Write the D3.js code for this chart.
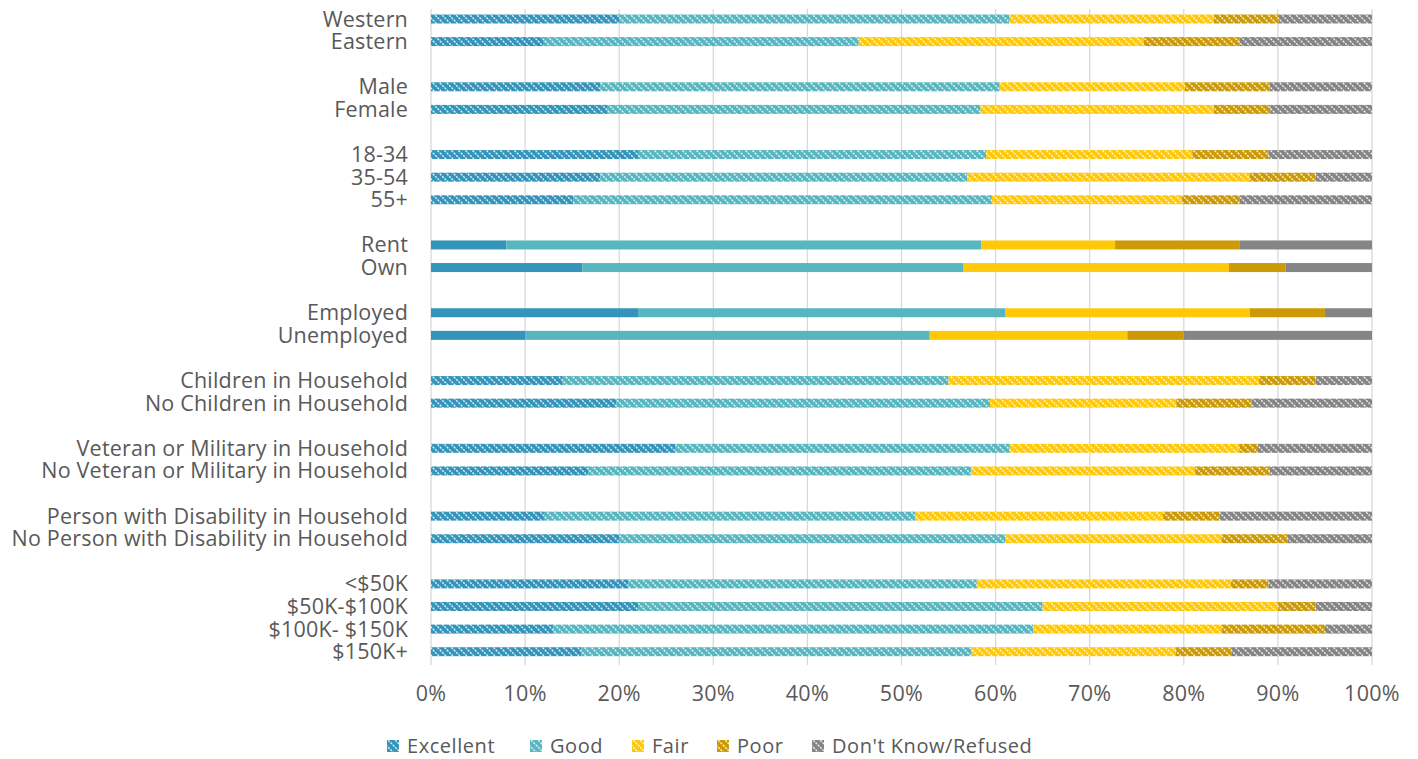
<!DOCTYPE html>
<html><head><meta charset="utf-8">
<script src="https://cdn.jsdelivr.net/npm/d3@7"></script>
<style>
body{margin:0;background:#fff;}
text{font-family:"Open Sans","Noto Sans",sans-serif;fill:#595959;}
</style></head>
<body><svg id="c" width="1418" height="759"></svg>
<script>
const categories = ["Western","Eastern","","Male","Female"," ","18-34","35-54","55+","  ","Rent","Own","   ","Employed","Unemployed","    ","Children in Household","No Children in Household","     ","Veteran or Military in Household","No Veteran or Military in Household","      ","Person with Disability in Household","No Person with Disability in Household","       ","<$50K","$50K-$100K","$100K- $150K","$150K+"];
const seriesNames = ["Excellent","Good","Fair","Poor","Don't Know/Refused"];
const excellent = [20,12,null,18,18.7,null,22,18,15.1,null,8,16.1,null,22,10,null,14,19.7,null,26,16.7,null,12,20,null,21,22,13,16];
const good      = [41.5,33.5,null,42.5,39.7,null,37,39,44.5,null,50.5,40.5,null,39,43,null,41,39.7,null,35.5,40.7,null,39.5,41,null,37,43,51,41.5];
const fair      = [21.7,30.3,null,19.7,24.8,null,21.9,30,20.2,null,14.2,28.2,null,26,21,null,33,19.8,null,24.4,23.8,null,26.3,23,null,27,25,20,21.7];
const poor      = [6.9,10.2,null,9,6,null,8.1,7,6.1,null,13.2,6,null,8,6,null,6,8,null,1.9,7.9,null,6,7,null,4,4,11,6];
const dontKnow  = [9.9,14.1,null,10.9,10.8,null,11,6,14.1,null,14.1,9.2,null,5,20,null,6,12.8,null,12.2,10.9,null,16.2,9,null,11,6,5,14.9];
const solidRows = ["Rent","Own","Employed","Unemployed"];
const tickValues = [0,0.1,0.2,0.3,0.4,0.5,0.6,0.7,0.8,0.9,1];
const colors = ["#3494BA","#58B6C0","#FFC808","#CC9A06","#858585"];

const svg = d3.select("#c");
const x = d3.scaleLinear().domain([0,1]).range([431,1372]);
const y = d3.scaleBand().domain(categories).range([7.7,663]).paddingInner(0.6).paddingOuter(0.3);

const defs = svg.append("defs");
colors.forEach((c,i)=>{
  const p = defs.append("pattern").attr("id","pat"+i).attr("patternUnits","userSpaceOnUse")
    .attr("width",7).attr("height",7);
  p.append("rect").attr("width",7).attr("height",7).attr("fill",c);
  p.append("path").attr("d","M-1,-1 L8,8 M-1,6 L1,8 M6,-1 L8,1")
    .attr("stroke","#fff").attr("stroke-width",1.4).attr("stroke-dasharray","2,1.2").attr("opacity",0.85);
});

// gridlines
svg.append("g").selectAll("line").data(tickValues).join("line")
  .attr("x1",d=>x(d)).attr("x2",d=>x(d)).attr("y1",9).attr("y2",665)
  .attr("stroke","#D9D9D9").attr("stroke-width",1.3);

const rows = categories.map((c,i)=>({cat:c, vals:[excellent[i],good[i],fair[i],poor[i],dontKnow[i]]})).filter(r=>r.vals[0]!=null);
rows.forEach(r=>{
  const tot = d3.sum(r.vals);
  let acc = 0;
  r.segs = r.vals.map((v,i)=>{const s={i,x0:acc/tot,x1:(acc+v)/tot,cat:r.cat}; acc+=v; return s;});
});

const bh = 9;
svg.append("g").selectAll("g").data(rows).join("g").each(function(r){
  d3.select(this).selectAll("rect").data(r.segs).join("rect")
    .attr("x",d=>x(d.x0)).attr("width",d=>x(d.x1)-x(d.x0))
    .attr("y",y(r.cat)+y.bandwidth()/2-bh/2).attr("height",bh)
    .attr("fill",d=>solidRows.includes(r.cat)?colors[d.i]:`url(#pat${d.i})`);
});

// category labels
svg.append("g").selectAll("text").data(rows).join("text")
  .attr("x",408).attr("y",d=>y(d.cat)+y.bandwidth()/2).attr("dy","0.35em")
  .attr("text-anchor","end").attr("font-size",21.5).attr("letter-spacing",0.2).text(d=>d.cat);

// x axis labels
svg.append("g").selectAll("text").data(tickValues).join("text")
  .attr("x",d=>x(d)).attr("y",693).attr("dy","0.35em").attr("text-anchor","middle")
  .attr("font-size",21.5).attr("letter-spacing",0.3).text(d=>d3.format(".0%")(d));

// legend
const legX = [387,530,632,717,812];
const lg = svg.append("g").selectAll("g").data(seriesNames).join("g")
  .attr("transform",(d,i)=>`translate(${legX[i]},746)`);
lg.append("rect").attr("x",0).attr("y",-6).attr("width",12).attr("height",12).attr("fill",(d,i)=>`url(#pat${i})`);
lg.append("text").attr("x",20).attr("y",0).attr("dy","0.35em").attr("font-size",20).attr("letter-spacing",0.55).text(d=>d);
</script></body></html>
